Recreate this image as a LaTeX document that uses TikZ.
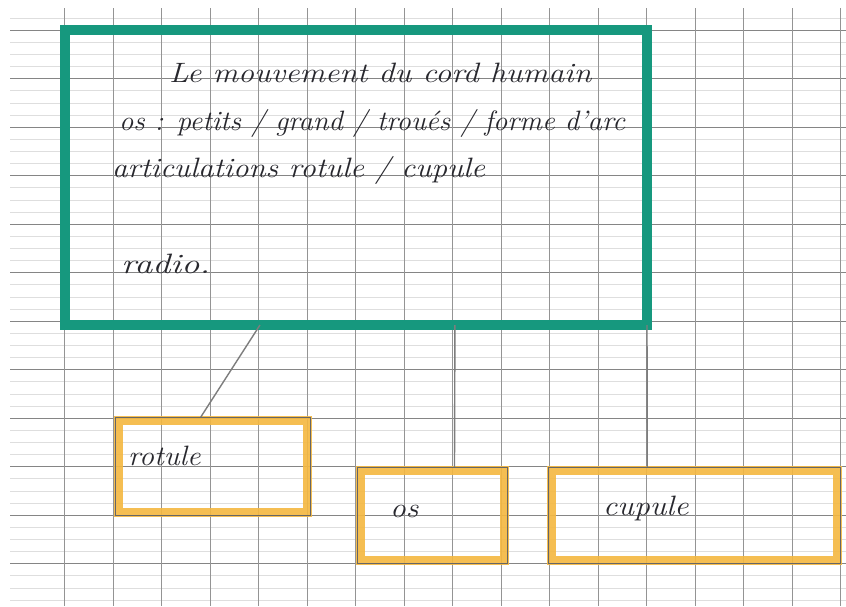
\documentclass[tikz,border=0pt]{standalone}
\usetikzlibrary{calc}
\definecolor{markerteal}{RGB}{22,152,126}
\definecolor{markerorange}{RGB}{245,184,64}
\definecolor{ink}{RGB}{40,40,46}
\definecolor{pencilgray}{RGB}{125,125,125}
\newcommand{\handfont}{\itshape\fontsize{28}{32}\selectfont}
\newcommand{\handw}[2]{\scalebox{#1}[1]{#2}}
\begin{document}
\begin{tikzpicture}[x=1pt,y=-1pt,
  vline/.style={draw=black!42, line width=0.55pt},
  majorline/.style={draw=black!48, line width=0.65pt},
  minorline/.style={draw=black!13, line width=0.5pt},
  greenbox/.style={draw=markerteal, line width=9.5pt, rectangle, outer sep=0pt, inner sep=0pt},
  padbox/.style={draw=black!60, line width=1pt, rectangle, outer sep=0pt, inner sep=0pt},
  band/.style={draw=markerorange, line width=9pt, draw opacity=0.9},
  pencilline/.style={draw=pencilgray, line width=1.4pt},
  hand/.style={font=\handfont, text=ink, anchor=base west, inner sep=0pt}]
% paper
\fill[white] (0,0) rectangle (846,606);
\useasboundingbox (0,0) rectangle (846,606);
% ruled grid: faint minor lines, stronger major lines, vertical lines
\foreach \j in {-1,...,47} \draw[minorline] (10,{30+12.125*\j}) -- (846,{30+12.125*\j});
\foreach \i in {0,...,11} \draw[majorline] (10,{30+48.5*\i}) -- (846,{30+48.5*\i});
\foreach \k in {0,...,16} \draw[vline] ({64.5+48.5*\k},8) -- ({64.5+48.5*\k},606);

% main box
\node[greenbox, minimum width=582pt, minimum height=295pt] (main) at (356,177.5) {};
\node[hand] (title) at (169,82) {\handw{1.14}{Le mouvement du cord humain}};
\node[hand] (line1) at (119,130) {\handw{1.02}{os : petits / grand / troués / forme d'arc}};
\node[hand] (line2) at (112,177) {\handw{1.11}{articulations rotule / cupule}};
\node[hand] (line3) at (121,273) {\handw{1.29}{radio.}};

% small boxes
\node[padbox, minimum width=195pt, minimum height=98pt] (rotule) at (212.5,466) {};
\node[padbox, minimum width=150pt, minimum height=96pt] (os) at (432,515) {};
\node[padbox, minimum width=292pt, minimum height=96pt] (cupule) at (694,515) {};
\foreach \b in {rotule,os,cupule}
  \draw[band] ([shift={(3,3)}]\b.north west) rectangle ([shift={(-3,-3)}]\b.south east);
\foreach \b in {rotule,os,cupule}
  \draw[padbox] (\b.north west) rectangle (\b.south east);
\node[hand] (trotule) at (128,465) {\handw{1.07}{rotule}};
\node[hand] (tos) at (390,517) {\handw{1.12}{os}};
\node[hand] (tcupule) at (603,515) {\handw{1.13}{cupule}};

% connectors
\draw[pencilline] ($(main.south west)!0.335!(main.south east)$) -- ($(rotule.north west)!0.44!(rotule.north east)$);
\draw[pencilline] ($(main.south west)!0.67!(main.south east)$) -- ($(os.north west)!0.65!(os.north east)$);
\draw[pencilline] (main.south east) -- ($(cupule.north west)!0.34!(cupule.north east)$);
\end{tikzpicture}
\end{document}
